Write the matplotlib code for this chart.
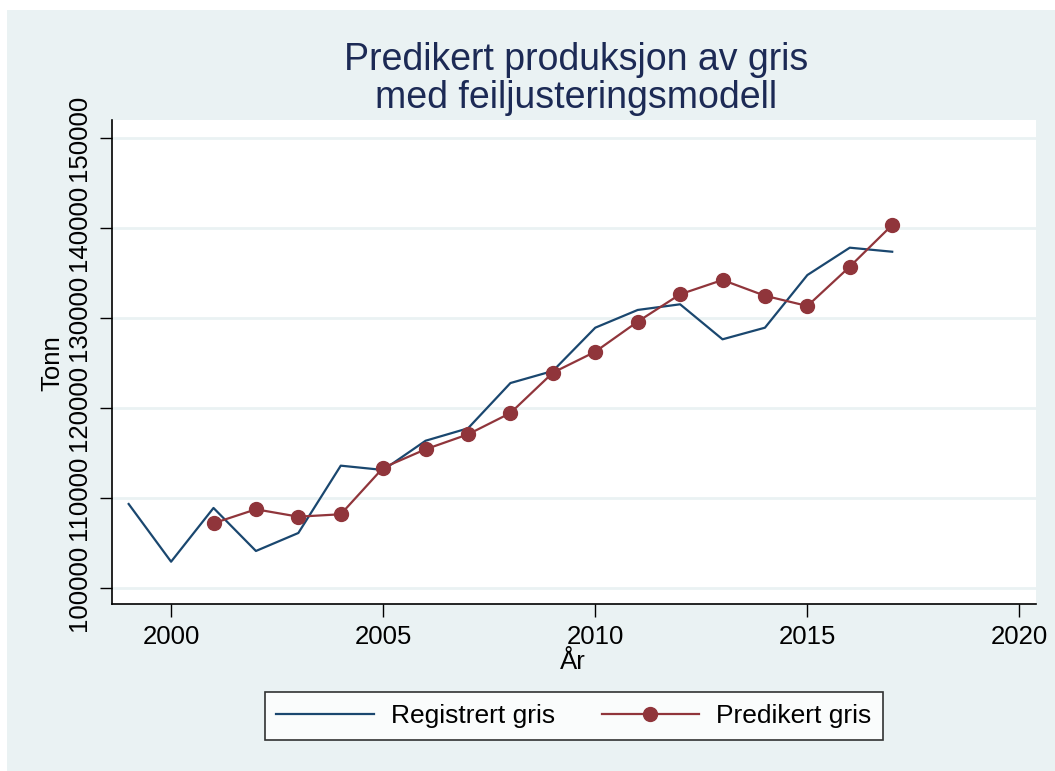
import matplotlib.pyplot as plt
from matplotlib.patches import Rectangle

years_reg = [1999, 2000, 2001, 2002, 2003, 2004, 2005, 2006, 2007, 2008,
             2009, 2010, 2011, 2012, 2013, 2014, 2015, 2016, 2017]
registrert = [109300, 102890, 108860, 104080, 106080, 113560, 113080, 116330,
              117710, 122740, 124080, 128890, 130860, 131490, 127600, 128890,
              134740, 137780, 137330]

years_pred = [2001, 2002, 2003, 2004, 2005, 2006, 2007, 2008, 2009, 2010,
              2011, 2012, 2013, 2014, 2015, 2016, 2017]
predikert = [107160, 108710, 107890, 108160, 113330, 115380, 117040, 119410,
             123890, 126220, 129560, 132600, 134190, 132440, 131300, 135670,
             140300]

x_ticks = [2000, 2005, 2010, 2015, 2020]
y_ticks = [100000, 110000, 120000, 130000, 140000, 150000]

BG = '#EAF2F3'
NAVY = '#1A476F'
MAROON = '#90353B'
TITLE = '#1C2A55'

plt.rcParams['font.family'] = ['Liberation Sans', 'DejaVu Sans']

W, H = 1055, 771
fig = plt.figure(figsize=(W / 100, H / 100), dpi=100)
fig.patch.set_facecolor('white')
# grey panel behind everything
fig.patches.append(Rectangle((7 / W, 0), 1, 1 - 10 / H, transform=fig.transFigure,
                             facecolor=BG, edgecolor='none', zorder=-10))

ax = fig.add_axes([111.7 / W, 1 - 604 / H, (1036 - 111.7) / W, (604 - 120) / H])
ax.set_facecolor('white')

ax.plot(years_reg, registrert, color=NAVY, lw=1.6, label='Registrert gris', zorder=3)
ax.plot(years_pred, predikert, color=MAROON, lw=1.6, marker='o', markersize=10,
        label='Predikert gris', zorder=4)

ax.set_xlim(1998.60, 2020.39)
ax.set_ylim(98189, 151967)
ax.set_xticks(x_ticks)
ax.set_yticks(y_ticks)
ax.set_yticklabels([str(v) for v in y_ticks], rotation=90, va='center')
ax.tick_params(axis='both', labelsize=18.5, length=9, width=1, color='black', pad=6)
ax.yaxis.grid(True, color=BG, lw=2)
ax.set_axisbelow(True)
for side in ['top', 'right']:
    ax.spines[side].set_visible(False)
for side in ['left', 'bottom']:
    ax.spines[side].set_color('black')
    ax.spines[side].set_linewidth(1.2)

fig.text(576 / W, 1 - 79 / H, 'Predikert produksjon av gris\nmed feiljusteringsmodell',
         ha='center', va='center', fontsize=27, color=TITLE, linespacing=1.05)
fig.text(573 / W, 1 - 662 / H, 'År', ha='center', va='center', fontsize=18.5)
fig.text(52 / W, 1 - 363 / H, 'Tonn', ha='center', va='center', fontsize=18.5, rotation=90)

leg = fig.legend(loc='center', bbox_to_anchor=(574 / W, 1 - 716 / H), ncol=2,
                 fontsize=19, frameon=True, fancybox=False, handlelength=3.7,
                 columnspacing=1.75, handletextpad=0.65, borderpad=0.45)
leg.get_frame().set_edgecolor('black')
leg.get_frame().set_linewidth(1.2)
leg.get_frame().set_facecolor('white')

fig.savefig('out.png', dpi=100, facecolor=fig.get_facecolor())
